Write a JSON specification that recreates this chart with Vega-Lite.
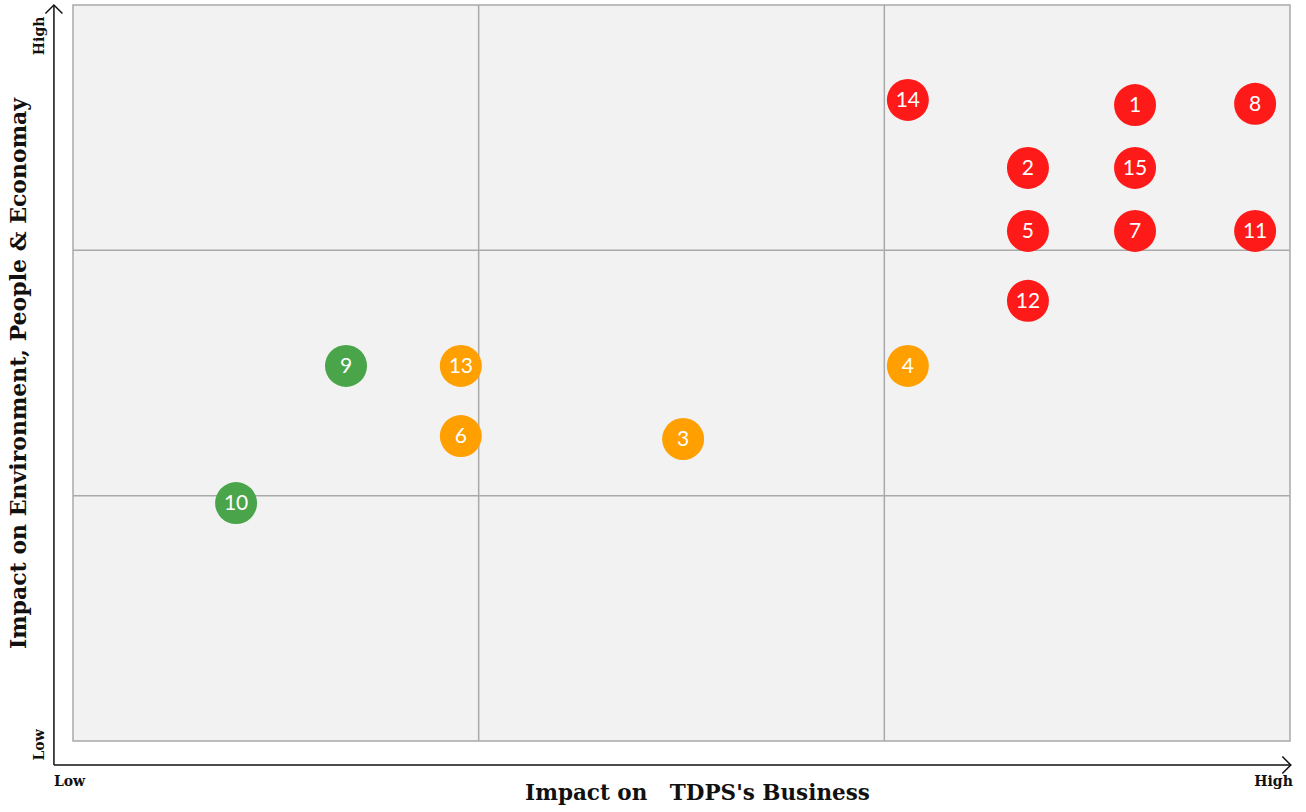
{
  "$schema": "https://vega.github.io/schema/vega-lite/v6.json",
  "autosize": {"type": "none"},
  "width": 1217,
  "height": 736,
  "padding": {"left": 73, "top": 5, "right": 16, "bottom": 71},
  "background": "white",
  "config": {
    "view": {"fill": "#f2f2f2", "stroke": "#a9a9a9", "strokeWidth": 1.5}
  },
  "datasets": {
    "topics": [
      {"id": "1", "business": 2.618, "impact": 2.592, "level": "High"},
      {"id": "2", "business": 2.354, "impact": 2.336, "level": "High"},
      {"id": "3", "business": 1.504, "impact": 1.231, "level": "Medium"},
      {"id": "4", "business": 2.058, "impact": 1.529, "level": "Medium"},
      {"id": "5", "business": 2.354, "impact": 2.079, "level": "High"},
      {"id": "6", "business": 0.956, "impact": 1.243, "level": "Medium"},
      {"id": "7", "business": 2.618, "impact": 2.079, "level": "High"},
      {"id": "8", "business": 2.914, "impact": 2.597, "level": "High"},
      {"id": "9", "business": 0.673, "impact": 1.529, "level": "Low"},
      {"id": "10", "business": 0.402, "impact": 0.970, "level": "Low"},
      {"id": "11", "business": 2.914, "impact": 2.079, "level": "High"},
      {"id": "12", "business": 2.354, "impact": 1.794, "level": "High"},
      {"id": "13", "business": 0.956, "impact": 1.529, "level": "Medium"},
      {"id": "14", "business": 2.058, "impact": 2.613, "level": "High"},
      {"id": "15", "business": 2.618, "impact": 2.336, "level": "High"}
    ]
  },
  "layer": [
    {
      "mark": {"type": "rule", "color": "#a9a9a9", "strokeWidth": 1.5},
      "data": {"values": [{"v": 1}, {"v": 2}]},
      "encoding": {
        "x": {"field": "v", "type": "quantitative", "scale": {"domain": [0, 3], "nice": false, "zero": false},
          "axis": {"values": [], "labels": false, "ticks": false, "domain": false, "grid": false,
            "title": "Impact on\u00a0\u00a0 TDPS's Business", "titleFont": "DejaVu Serif", "titleFontSize": 21.5, "titleFontWeight": "bold",
            "titleColor": "#111", "titleBaseline": "middle", "titleX": 624, "titleY": 52}}
      }
    },
    {
      "mark": {"type": "rule", "color": "#a9a9a9", "strokeWidth": 1.5},
      "data": {"values": [{"v": 1}, {"v": 2}]},
      "encoding": {
        "y": {"field": "v", "type": "quantitative", "scale": {"domain": [0, 3], "nice": false, "zero": false},
          "axis": {"values": [], "labels": false, "ticks": false, "domain": false, "grid": false,
            "title": "Impact on Environment, People & Economay", "titleFont": "DejaVu Serif", "titleFontSize": 22, "titleFontWeight": "bold",
            "titleColor": "#111", "titleBaseline": "middle", "titleX": -55, "titleY": 368, "titleAngle": 270}}
      }
    },
    {
      "data": {"values": [{}]},
      "mark": {"type": "rule", "color": "#111", "strokeWidth": 1.5, "clip": false},
      "encoding": {
        "x": {"datum": -0.047, "type": "quantitative"},
        "y": {"datum": -0.098, "type": "quantitative"},
        "y2": {"datum": 3.0}
      }
    },
    {
      "data": {"values": [{}]},
      "mark": {"type": "rule", "color": "#111", "strokeWidth": 1.5, "clip": false},
      "encoding": {
        "y": {"datum": -0.098, "type": "quantitative"},
        "x": {"datum": -0.047, "type": "quantitative"},
        "x2": {"datum": 3.002}
      }
    },
    {
      "data": {"values": [{}]},
      "mark": {"type": "point", "shape": "M-1,1L0,0L1,1", "filled": false, "stroke": "#111", "strokeWidth": 1.5, "size": 289, "opacity": 1, "clip": false},
      "encoding": {
        "x": {"datum": -0.047, "type": "quantitative"},
        "y": {"datum": 3.0, "type": "quantitative"}
      }
    },
    {
      "data": {"values": [{}]},
      "mark": {"type": "point", "shape": "M-1,-1L0,0L-1,1", "filled": false, "stroke": "#111", "strokeWidth": 1.5, "size": 289, "opacity": 1, "clip": false},
      "encoding": {
        "x": {"datum": 3.002, "type": "quantitative"},
        "y": {"datum": -0.098, "type": "quantitative"}
      }
    },
    {
      "data": {"values": [
        {"t": "Low", "bx": -0.047, "iy": -0.168, "al": "left"},
        {"t": "High", "bx": 3.007, "iy": -0.168, "al": "right"}
      ]},
      "mark": {"type": "text", "font": "DejaVu Serif", "fontSize": 14, "fontWeight": "bold", "color": "#111", "baseline": "middle", "clip": false, "align": {"expr": "datum.al"}},
      "encoding": {
        "x": {"field": "bx", "type": "quantitative"},
        "y": {"field": "iy", "type": "quantitative"},
        "text": {"field": "t"}
      }
    },
    {
      "data": {"values": [
        {"t": "High", "bx": -0.081, "iy": 2.874},
        {"t": "Low", "bx": -0.081, "iy": -0.016}
      ]},
      "mark": {"type": "text", "font": "DejaVu Serif", "fontSize": 14, "fontWeight": "bold", "color": "#111", "baseline": "middle", "align": "center", "angle": 270, "clip": false},
      "encoding": {
        "x": {"field": "bx", "type": "quantitative"},
        "y": {"field": "iy", "type": "quantitative"},
        "text": {"field": "t"}
      }
    },
    {
      "data": {"name": "topics"},
      "mark": {"type": "point", "shape": "circle", "filled": true, "opacity": 1, "size": 1764},
      "encoding": {
        "x": {"field": "business", "type": "quantitative"},
        "y": {"field": "impact", "type": "quantitative"},
        "color": {"field": "level", "type": "nominal", "legend": null,
          "scale": {"domain": ["High", "Medium", "Low"], "range": ["#ff1a1a", "#ff9f00", "#4aa54a"]}}
      }
    },
    {
      "data": {"name": "topics"},
      "mark": {"type": "text", "font": "Lato", "fontSize": 21, "color": "white", "baseline": "middle", "align": "center", "dy": 1},
      "encoding": {
        "x": {"field": "business", "type": "quantitative"},
        "y": {"field": "impact", "type": "quantitative"},
        "text": {"field": "id"}
      }
    }
  ]
}
